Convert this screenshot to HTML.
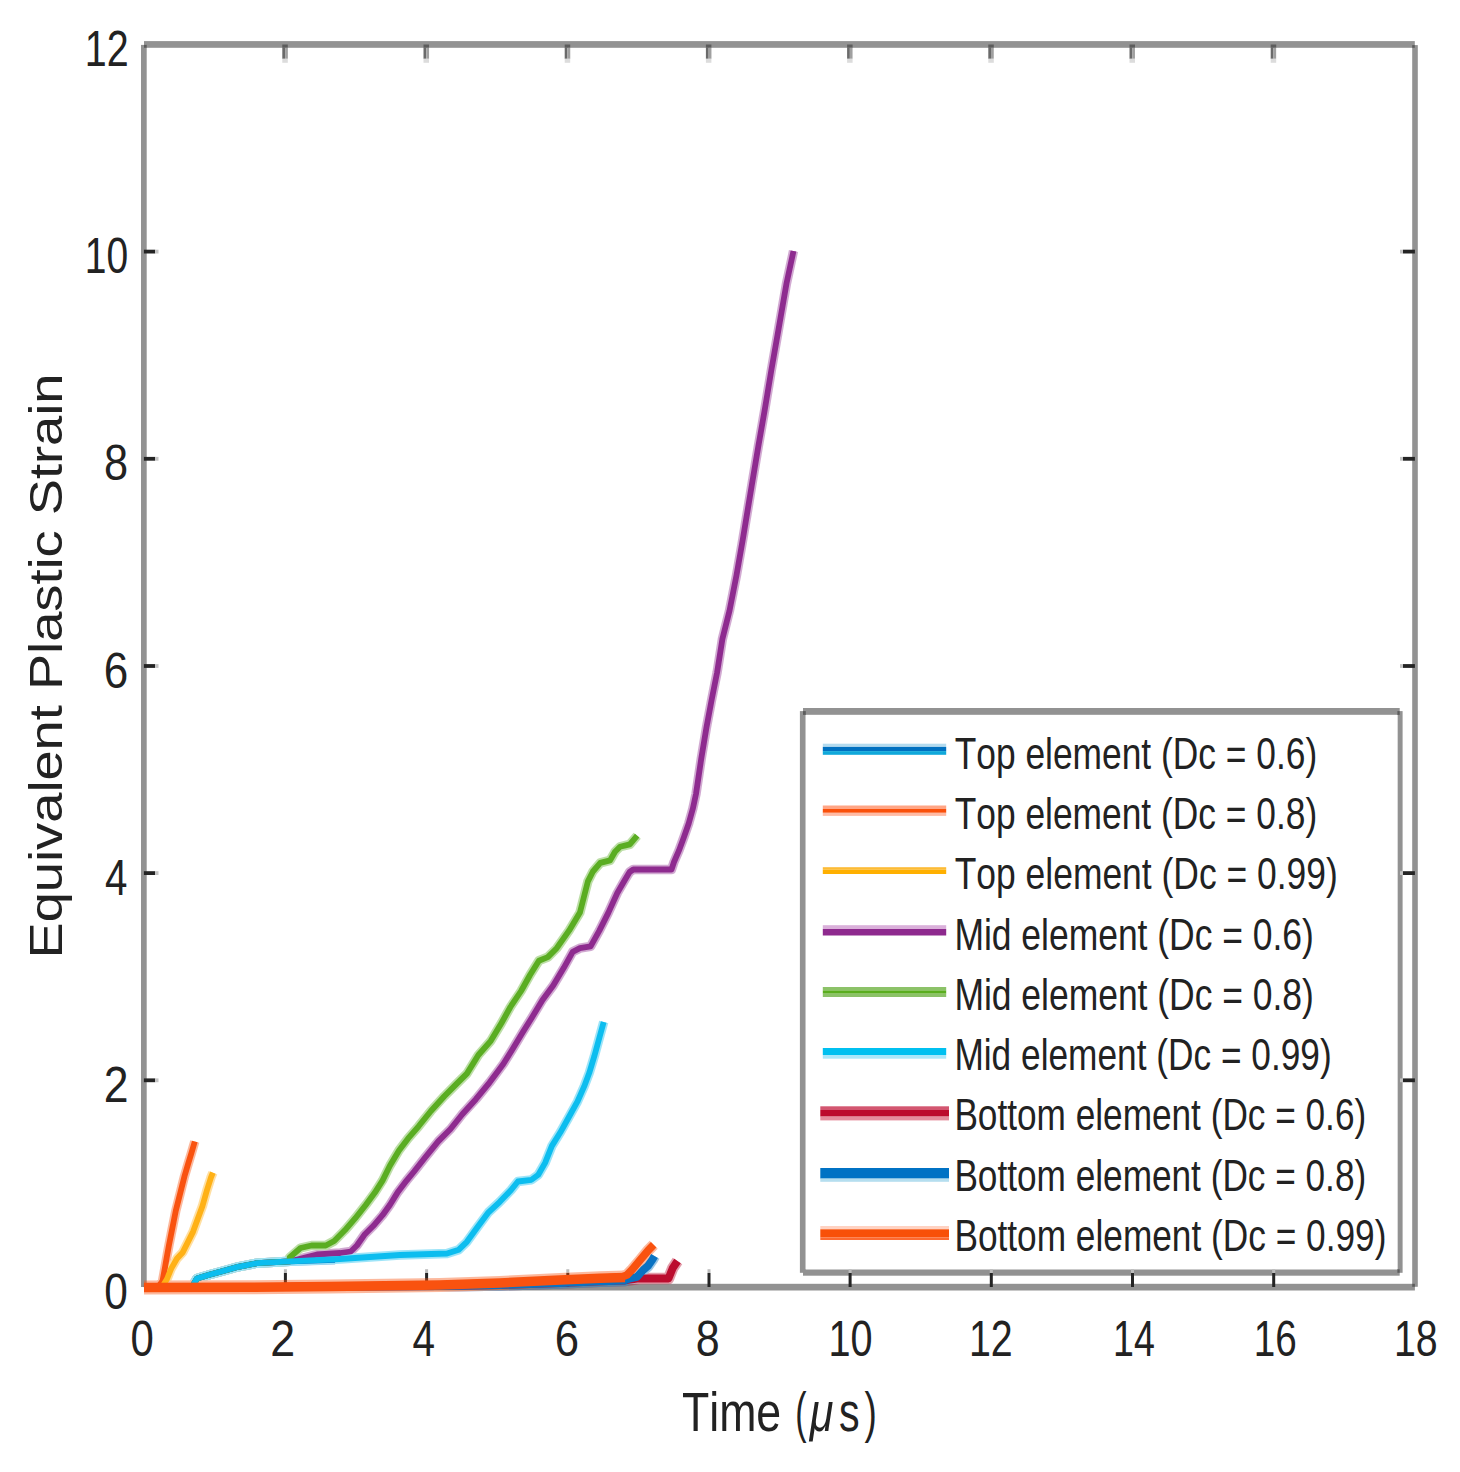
<!DOCTYPE html>
<html><head><meta charset="utf-8"><title>Equivalent Plastic Strain</title>
<style>
html,body{margin:0;padding:0;background:#fff;}
body{width:1460px;height:1472px;overflow:hidden;}
svg{display:block;font-family:"Liberation Sans",sans-serif;font-kerning:none;}
text{font-kerning:none;}
</style></head><body>
<svg width="1460" height="1472" viewBox="0 0 1460 1472">
<rect x="0" y="0" width="1460" height="1472" fill="#fff"/>
<rect x="144" y="41.1" width="1270.8" height="6.7" fill="#929292"/>
<rect x="141" y="44.9" width="5.7" height="1242.1" fill="#929292"/>
<rect x="1412.2" y="45.1" width="5.6" height="1241.7" fill="#929292"/>
<rect x="144" y="1283.8" width="1270.9" height="6.7" fill="#929292"/>
<rect x="144" y="44.9" width="2.7" height="2.9" fill="#5c5c5c"/>
<rect x="1412.2" y="45.1" width="2.6" height="2.7" fill="#5c5c5c"/>
<rect x="1412.2" y="1283.8" width="2.7" height="3.0" fill="#5c5c5c"/>
<rect x="803" y="708" width="596.7" height="6.9" fill="#929292"/>
<rect x="799.9" y="711.1" width="5.8" height="561.7" fill="#929292"/>
<rect x="1397.4" y="711.1" width="5.2" height="561.7" fill="#929292"/>
<rect x="803" y="1269.3" width="596.7" height="6.4" fill="#929292"/>
<rect x="805.75" y="714.9" width="591.7" height="554.4" fill="#fff"/>
<rect x="803" y="711.1" width="2.8" height="3.8" fill="#5c5c5c"/>
<rect x="1397.4" y="711.1" width="2.3" height="3.8" fill="#5c5c5c"/>
<rect x="1397.4" y="1269.3" width="2.3" height="3.5" fill="#5c5c5c"/>
<rect x="282.3" y="44.5" width="5.5" height="3.3" fill="#5c5c5c"/>
<rect x="282.3" y="47.8" width="2.75" height="11" fill="#6a6a6a"/>
<rect x="285.1" y="47.8" width="2.75" height="11" fill="#a0a0a0"/>
<rect x="282.3" y="58.8" width="5.5" height="4" fill="#dcdcdc"/>
<rect x="283.9" y="1273" width="3" height="14" fill="#242424"/>
<rect x="283.9" y="1269.2" width="3" height="3.8" fill="#bdbdbd"/>
<rect x="423.5" y="44.5" width="5.5" height="3.3" fill="#5c5c5c"/>
<rect x="423.5" y="47.8" width="2.75" height="11" fill="#6a6a6a"/>
<rect x="426.3" y="47.8" width="2.75" height="11" fill="#a0a0a0"/>
<rect x="423.5" y="58.8" width="5.5" height="4" fill="#dcdcdc"/>
<rect x="425.1" y="1273" width="3" height="14" fill="#242424"/>
<rect x="425.1" y="1269.2" width="3" height="3.8" fill="#bdbdbd"/>
<rect x="564.7" y="44.5" width="5.5" height="3.3" fill="#5c5c5c"/>
<rect x="564.7" y="47.8" width="2.75" height="11" fill="#6a6a6a"/>
<rect x="567.5" y="47.8" width="2.75" height="11" fill="#a0a0a0"/>
<rect x="564.7" y="58.8" width="5.5" height="4" fill="#dcdcdc"/>
<rect x="566.3" y="1273" width="3" height="14" fill="#242424"/>
<rect x="566.3" y="1269.2" width="3" height="3.8" fill="#bdbdbd"/>
<rect x="705.9" y="44.5" width="5.5" height="3.3" fill="#5c5c5c"/>
<rect x="705.9" y="47.8" width="2.75" height="11" fill="#6a6a6a"/>
<rect x="708.7" y="47.8" width="2.75" height="11" fill="#a0a0a0"/>
<rect x="705.9" y="58.8" width="5.5" height="4" fill="#dcdcdc"/>
<rect x="707.5" y="1273" width="3" height="14" fill="#242424"/>
<rect x="707.5" y="1269.2" width="3" height="3.8" fill="#bdbdbd"/>
<rect x="847.1" y="44.5" width="5.5" height="3.3" fill="#5c5c5c"/>
<rect x="847.1" y="47.8" width="2.75" height="11" fill="#6a6a6a"/>
<rect x="849.8" y="47.8" width="2.75" height="11" fill="#a0a0a0"/>
<rect x="847.1" y="58.8" width="5.5" height="4" fill="#dcdcdc"/>
<rect x="848.6" y="1273" width="3" height="14" fill="#242424"/>
<rect x="848.6" y="1269.2" width="3" height="3.8" fill="#bdbdbd"/>
<rect x="988.3" y="44.5" width="5.5" height="3.3" fill="#5c5c5c"/>
<rect x="988.3" y="47.8" width="2.75" height="11" fill="#6a6a6a"/>
<rect x="991.0" y="47.8" width="2.75" height="11" fill="#a0a0a0"/>
<rect x="988.3" y="58.8" width="5.5" height="4" fill="#dcdcdc"/>
<rect x="989.8" y="1273" width="3" height="14" fill="#242424"/>
<rect x="989.8" y="1269.2" width="3" height="3.8" fill="#bdbdbd"/>
<rect x="1129.5" y="44.5" width="5.5" height="3.3" fill="#5c5c5c"/>
<rect x="1129.5" y="47.8" width="2.75" height="11" fill="#6a6a6a"/>
<rect x="1132.2" y="47.8" width="2.75" height="11" fill="#a0a0a0"/>
<rect x="1129.5" y="58.8" width="5.5" height="4" fill="#dcdcdc"/>
<rect x="1131.0" y="1273" width="3" height="14" fill="#242424"/>
<rect x="1131.0" y="1269.2" width="3" height="3.8" fill="#bdbdbd"/>
<rect x="1270.7" y="44.5" width="5.5" height="3.3" fill="#5c5c5c"/>
<rect x="1270.7" y="47.8" width="2.75" height="11" fill="#6a6a6a"/>
<rect x="1273.4" y="47.8" width="2.75" height="11" fill="#a0a0a0"/>
<rect x="1270.7" y="58.8" width="5.5" height="4" fill="#dcdcdc"/>
<rect x="1272.2" y="1273" width="3" height="14" fill="#242424"/>
<rect x="1272.2" y="1269.2" width="3" height="3.8" fill="#bdbdbd"/>
<rect x="143.9" y="1078.4" width="11.3" height="3.8" fill="#242424"/>
<rect x="155.2" y="1078.4" width="3.3" height="3.8" fill="#c4c4c4"/>
<rect x="1402.9" y="1078.4" width="12" height="3.8" fill="#242424"/>
<rect x="1400" y="1078.4" width="2.9" height="3.8" fill="#c4c4c4"/>
<rect x="143.9" y="871.2" width="11.3" height="3.8" fill="#242424"/>
<rect x="155.2" y="871.2" width="3.3" height="3.8" fill="#c4c4c4"/>
<rect x="1402.9" y="871.2" width="12" height="3.8" fill="#242424"/>
<rect x="1400" y="871.2" width="2.9" height="3.8" fill="#c4c4c4"/>
<rect x="143.9" y="664.1" width="11.3" height="3.8" fill="#242424"/>
<rect x="155.2" y="664.1" width="3.3" height="3.8" fill="#c4c4c4"/>
<rect x="1402.9" y="664.1" width="12" height="3.8" fill="#242424"/>
<rect x="1400" y="664.1" width="2.9" height="3.8" fill="#c4c4c4"/>
<rect x="143.9" y="456.9" width="11.3" height="3.8" fill="#242424"/>
<rect x="155.2" y="456.9" width="3.3" height="3.8" fill="#c4c4c4"/>
<rect x="1402.9" y="456.9" width="12" height="3.8" fill="#242424"/>
<rect x="1400" y="456.9" width="2.9" height="3.8" fill="#c4c4c4"/>
<rect x="143.9" y="249.7" width="11.3" height="3.8" fill="#242424"/>
<rect x="155.2" y="249.7" width="3.3" height="3.8" fill="#c4c4c4"/>
<rect x="1402.9" y="249.7" width="12" height="3.8" fill="#242424"/>
<rect x="1400" y="249.7" width="2.9" height="3.8" fill="#c4c4c4"/>
<g fill="none" stroke-linejoin="round" stroke-linecap="butt">
<g opacity="0.4">
<path d="M144.0 1287.5 L192.0 1287.0 L197.0 1278.5 L209.3 1274.8 L223.1 1271.0 L238.2 1266.8 L257.0 1263.2 L290.0 1261.3 L335.0 1259.8" stroke="#0a72c2" stroke-width="9.4"/>
<path d="M144.0 1287.5 L158.0 1287.2 L162.5 1281.0 L164.8 1268.6 L166.8 1257.0 L168.9 1245.5 L171.2 1233.9 L173.5 1222.4 L175.8 1210.8 L178.7 1199.3 L181.6 1187.7 L184.5 1176.2 L187.9 1164.6 L191.4 1153.1 L194.8 1141.5" stroke="#f9520f" stroke-width="9.4"/>
<path d="M144.0 1287.5 L162.0 1287.2 L167.0 1279.0 L171.2 1268.6 L177.0 1258.5 L182.7 1252.4 L188.5 1240.9 L193.1 1231.6 L197.7 1218.9 L202.4 1206.2 L207.0 1190.0 L211.0 1177.3 L212.9 1172.7" stroke="#ffb116" stroke-width="9.4"/>
<path d="M144.0 1287.5 L192.0 1287.0 L197.0 1278.5 L209.3 1274.8 L223.1 1271.0 L238.2 1266.8 L257.0 1263.2 L290.0 1261.3 L317.0 1254.5 L340.3 1253.0 L350.8 1251.5 L356.9 1245.5 L364.4 1234.8 L373.4 1225.8 L382.5 1215.2 L390.0 1204.7 L397.5 1192.6 L406.6 1180.6 L414.1 1171.5 L424.7 1158.0 L438.2 1141.4 L450.3 1129.3 L462.3 1114.2 L475.9 1099.2 L489.5 1082.6 L498.5 1070.5 L503.3 1064.0 L512.2 1049.7 L522.9 1031.9 L531.8 1017.7 L542.5 999.9 L553.2 985.6 L563.8 967.8 L572.7 951.8 L579.9 948.2 L590.6 946.4 L599.5 930.4 L608.4 912.6 L617.3 893.0 L624.7 880.2 L629.6 872.0 L633.3 869.5 L671.5 869.5 L674.0 862.0 L678.9 850.7 L683.8 837.5 L688.7 823.5 L692.8 808.8 L696.0 794.0 L701.2 759.0 L706.5 727.3 L711.8 699.0 L717.1 672.5 L722.4 639.0 L729.5 610.7 L736.5 575.3 L742.7 540.0 L751.7 485.7 L758.3 446.5 L764.8 409.6 L771.3 370.4 L777.8 333.5 L786.5 283.5 L793.5 251.0" stroke="#8e2b8f" stroke-width="9.4"/>
<path d="M144.0 1287.5 L192.0 1287.0 L197.0 1278.5 L209.3 1274.8 L223.1 1271.0 L238.2 1266.8 L257.0 1263.2 L290.0 1261.3 L289.6 1257.5 L300.5 1248.0 L311.5 1245.5 L325.8 1245.5 L334.2 1241.0 L344.8 1230.3 L355.3 1218.2 L365.9 1204.7 L374.9 1192.6 L382.5 1180.6 L390.0 1165.5 L399.0 1150.4 L408.1 1138.4 L418.6 1126.3 L430.7 1111.2 L444.3 1096.2 L456.3 1084.1 L466.9 1073.6 L478.4 1055.0 L490.8 1040.8 L501.5 1023.0 L510.4 1007.0 L521.1 991.0 L530.0 975.0 L538.9 960.7 L547.8 957.1 L556.7 948.2 L569.2 930.4 L579.9 912.6 L587.9 881.4 L592.9 871.5 L600.3 862.9 L610.1 860.4 L615.0 851.8 L620.0 846.8 L629.8 844.4 L637.2 835.7" stroke="#5aad22" stroke-width="9.4"/>
<path d="M144.0 1287.5 L192.0 1287.0 L197.0 1278.5 L209.3 1274.8 L223.1 1271.0 L238.2 1266.8 L257.0 1263.2 L290.0 1261.3 L340.0 1259.0 L400.0 1255.0 L447.0 1253.5 L458.8 1249.7 L466.9 1241.8 L477.2 1227.5 L488.5 1212.3 L499.8 1201.8 L511.1 1190.0 L517.9 1181.5 L531.5 1179.8 L538.3 1174.7 L545.1 1162.9 L551.9 1145.9 L560.4 1132.3 L568.9 1117.0 L577.4 1101.7 L584.2 1086.4 L589.3 1072.8 L594.4 1055.9 L599.5 1037.2 L603.7 1021.9" stroke="#0cbdef" stroke-width="9.4"/>
<path d="M144.0 1287.5 L250.0 1287.2 L330.0 1286.5 L440.0 1286.0 L500.0 1285.0 L560.0 1283.0 L600.0 1281.3 L625.0 1280.5 L639.0 1278.5 L668.5 1278.5 L672.7 1268.2 L677.5 1261.0" stroke="#bb0c2e" stroke-width="11.4"/>
<path d="M144.0 1287.5 L250.0 1287.2 L330.0 1286.5 L440.0 1286.0 L500.0 1285.0 L560.0 1283.0 L600.0 1281.3 L625.0 1280.5 L630.0 1278.5 L637.0 1276.9 L643.2 1270.0 L648.1 1265.8 L652.4 1259.6 L654.5 1256.0" stroke="#0a72c2" stroke-width="11.4"/>
<path d="M144.0 1287.5 L250.0 1287.2 L330.0 1286.5 L440.0 1285.0 L500.0 1283.0 L560.0 1280.0 L600.0 1278.3 L622.0 1277.0 L627.0 1275.0 L632.3 1269.5 L640.6 1259.6 L648.8 1249.7 L653.7 1244.8" stroke="#f9520f" stroke-width="11.4"/>
<path d="M144.0 1287.5 L250.0 1287.2 L330.0 1286.5 L440.0 1285.0 L500.0 1283.0 L560.0 1280.0 L600.0 1278.3 L625.0 1277.5" stroke="#f9520f" stroke-width="14"/>
</g>
<path d="M144.0 1287.5 L192.0 1287.0 L197.0 1278.5 L209.3 1274.8 L223.1 1271.0 L238.2 1266.8 L257.0 1263.2 L290.0 1261.3 L335.0 1259.8" stroke="#0a72c2" stroke-width="5.8"/>
<path d="M144.0 1287.5 L158.0 1287.2 L162.5 1281.0 L164.8 1268.6 L166.8 1257.0 L168.9 1245.5 L171.2 1233.9 L173.5 1222.4 L175.8 1210.8 L178.7 1199.3 L181.6 1187.7 L184.5 1176.2 L187.9 1164.6 L191.4 1153.1 L194.8 1141.5" stroke="#f9520f" stroke-width="5.8"/>
<path d="M144.0 1287.5 L162.0 1287.2 L167.0 1279.0 L171.2 1268.6 L177.0 1258.5 L182.7 1252.4 L188.5 1240.9 L193.1 1231.6 L197.7 1218.9 L202.4 1206.2 L207.0 1190.0 L211.0 1177.3 L212.9 1172.7" stroke="#ffb116" stroke-width="5.8"/>
<path d="M144.0 1287.5 L192.0 1287.0 L197.0 1278.5 L209.3 1274.8 L223.1 1271.0 L238.2 1266.8 L257.0 1263.2 L290.0 1261.3 L317.0 1254.5 L340.3 1253.0 L350.8 1251.5 L356.9 1245.5 L364.4 1234.8 L373.4 1225.8 L382.5 1215.2 L390.0 1204.7 L397.5 1192.6 L406.6 1180.6 L414.1 1171.5 L424.7 1158.0 L438.2 1141.4 L450.3 1129.3 L462.3 1114.2 L475.9 1099.2 L489.5 1082.6 L498.5 1070.5 L503.3 1064.0 L512.2 1049.7 L522.9 1031.9 L531.8 1017.7 L542.5 999.9 L553.2 985.6 L563.8 967.8 L572.7 951.8 L579.9 948.2 L590.6 946.4 L599.5 930.4 L608.4 912.6 L617.3 893.0 L624.7 880.2 L629.6 872.0 L633.3 869.5 L671.5 869.5 L674.0 862.0 L678.9 850.7 L683.8 837.5 L688.7 823.5 L692.8 808.8 L696.0 794.0 L701.2 759.0 L706.5 727.3 L711.8 699.0 L717.1 672.5 L722.4 639.0 L729.5 610.7 L736.5 575.3 L742.7 540.0 L751.7 485.7 L758.3 446.5 L764.8 409.6 L771.3 370.4 L777.8 333.5 L786.5 283.5 L793.5 251.0" stroke="#8e2b8f" stroke-width="5.8"/>
<path d="M144.0 1287.5 L192.0 1287.0 L197.0 1278.5 L209.3 1274.8 L223.1 1271.0 L238.2 1266.8 L257.0 1263.2 L290.0 1261.3 L289.6 1257.5 L300.5 1248.0 L311.5 1245.5 L325.8 1245.5 L334.2 1241.0 L344.8 1230.3 L355.3 1218.2 L365.9 1204.7 L374.9 1192.6 L382.5 1180.6 L390.0 1165.5 L399.0 1150.4 L408.1 1138.4 L418.6 1126.3 L430.7 1111.2 L444.3 1096.2 L456.3 1084.1 L466.9 1073.6 L478.4 1055.0 L490.8 1040.8 L501.5 1023.0 L510.4 1007.0 L521.1 991.0 L530.0 975.0 L538.9 960.7 L547.8 957.1 L556.7 948.2 L569.2 930.4 L579.9 912.6 L587.9 881.4 L592.9 871.5 L600.3 862.9 L610.1 860.4 L615.0 851.8 L620.0 846.8 L629.8 844.4 L637.2 835.7" stroke="#5aad22" stroke-width="5.8"/>
<path d="M144.0 1287.5 L192.0 1287.0 L197.0 1278.5 L209.3 1274.8 L223.1 1271.0 L238.2 1266.8 L257.0 1263.2 L290.0 1261.3 L340.0 1259.0 L400.0 1255.0 L447.0 1253.5 L458.8 1249.7 L466.9 1241.8 L477.2 1227.5 L488.5 1212.3 L499.8 1201.8 L511.1 1190.0 L517.9 1181.5 L531.5 1179.8 L538.3 1174.7 L545.1 1162.9 L551.9 1145.9 L560.4 1132.3 L568.9 1117.0 L577.4 1101.7 L584.2 1086.4 L589.3 1072.8 L594.4 1055.9 L599.5 1037.2 L603.7 1021.9" stroke="#0cbdef" stroke-width="5.8"/>
<path d="M144.0 1287.5 L250.0 1287.2 L330.0 1286.5 L440.0 1286.0 L500.0 1285.0 L560.0 1283.0 L600.0 1281.3 L625.0 1280.5 L639.0 1278.5 L668.5 1278.5 L672.7 1268.2 L677.5 1261.0" stroke="#bb0c2e" stroke-width="7.8"/>
<path d="M144.0 1287.5 L250.0 1287.2 L330.0 1286.5 L440.0 1286.0 L500.0 1285.0 L560.0 1283.0 L600.0 1281.3 L625.0 1280.5 L630.0 1278.5 L637.0 1276.9 L643.2 1270.0 L648.1 1265.8 L652.4 1259.6 L654.5 1256.0" stroke="#0a72c2" stroke-width="7.8"/>
<path d="M144.0 1287.5 L250.0 1287.2 L330.0 1286.5 L440.0 1285.0 L500.0 1283.0 L560.0 1280.0 L600.0 1278.3 L622.0 1277.0 L627.0 1275.0 L632.3 1269.5 L640.6 1259.6 L648.8 1249.7 L653.7 1244.8" stroke="#f9520f" stroke-width="7.8"/>
<path d="M144.0 1287.5 L250.0 1287.2 L330.0 1286.5 L440.0 1285.0 L500.0 1283.0 L560.0 1280.0 L600.0 1278.3 L625.0 1277.5" stroke="#f9520f" stroke-width="9.5"/>
</g>
<rect x="822.8" y="743.7" width="123.4" height="3.2" fill="#b3dbef"/>
<rect x="822.8" y="746.9" width="123.4" height="4.2" fill="#0070c0"/>
<rect x="822.8" y="751.1" width="123.4" height="3.7" fill="#10a8da"/>
<text x="954.7" y="768.6" font-size="45" textLength="362.5" lengthAdjust="spacingAndGlyphs" fill="#222222">Top element (Dc = 0.6)</text>
<rect x="822.8" y="805.5" width="123.4" height="3.5" fill="#ffa585"/>
<rect x="822.8" y="809" width="123.4" height="3.8" fill="#fa500a"/>
<rect x="822.8" y="812.8" width="123.4" height="3.1" fill="#ffbba5"/>
<text x="954.7" y="828.9" font-size="45" textLength="362.5" lengthAdjust="spacingAndGlyphs" fill="#222222">Top element (Dc = 0.8)</text>
<rect x="822.8" y="867.2" width="123.4" height="2.5" fill="#fdbb35"/>
<rect x="822.8" y="869.7" width="123.4" height="4.3" fill="#ffb000"/>
<text x="954.7" y="889.2" font-size="45" textLength="383.1" lengthAdjust="spacingAndGlyphs" fill="#222222">Top element (Dc = 0.99)</text>
<rect x="822.8" y="925.2" width="123.4" height="3.8" fill="#dab0da"/>
<rect x="822.8" y="929" width="123.4" height="6.5" fill="#8e2a8e"/>
<text x="954.4" y="949.5" font-size="45" textLength="359.5" lengthAdjust="spacingAndGlyphs" fill="#222222">Mid element (Dc = 0.6)</text>
<rect x="822.8" y="987" width="123.4" height="3.4" fill="#8cc268"/>
<rect x="822.8" y="990.4" width="123.4" height="3.3" fill="#5aae1e"/>
<rect x="822.8" y="993.7" width="123.4" height="3.3" fill="#8cc268"/>
<text x="954.4" y="1009.8" font-size="45" textLength="359.5" lengthAdjust="spacingAndGlyphs" fill="#222222">Mid element (Dc = 0.8)</text>
<rect x="822.8" y="1048" width="123.4" height="7" fill="#00c0f0"/>
<rect x="822.8" y="1055" width="123.4" height="3.7" fill="#aae7fa"/>
<text x="954.4" y="1070.1" font-size="45" textLength="377.3" lengthAdjust="spacingAndGlyphs" fill="#222222">Mid element (Dc = 0.99)</text>
<rect x="820.3" y="1106.3" width="128.7" height="3.7" fill="#d35670"/>
<rect x="820.3" y="1110" width="128.7" height="6.6" fill="#bc0a2c"/>
<rect x="820.3" y="1116.6" width="128.7" height="3.8" fill="#e58c9c"/>
<text x="954.4" y="1130.4" font-size="45" textLength="411.8" lengthAdjust="spacingAndGlyphs" fill="#222222">Bottom element (Dc = 0.6)</text>
<rect x="820.3" y="1168" width="128.7" height="10.6" fill="#0072c4"/>
<rect x="820.3" y="1178.6" width="128.7" height="3.2" fill="#b5deef"/>
<text x="954.4" y="1190.7" font-size="45" textLength="411.8" lengthAdjust="spacingAndGlyphs" fill="#222222">Bottom element (Dc = 0.8)</text>
<rect x="820.3" y="1226" width="128.7" height="3.3" fill="#ffd2c2"/>
<rect x="820.3" y="1229.3" width="128.7" height="8" fill="#f85008"/>
<rect x="820.3" y="1237.3" width="128.7" height="2.7" fill="#fd6a30"/>
<text x="954.4" y="1251.0" font-size="45" textLength="432.0" lengthAdjust="spacingAndGlyphs" fill="#222222">Bottom element (Dc = 0.99)</text>
<text x="104.3" y="1309.0" font-size="49.5" textLength="23.6" lengthAdjust="spacingAndGlyphs" fill="#222222">0</text>
<text x="103.8" y="1101.8" font-size="49.5" textLength="24.8" lengthAdjust="spacingAndGlyphs" fill="#222222">2</text>
<text x="105.1" y="894.7" font-size="49.5" textLength="22.4" lengthAdjust="spacingAndGlyphs" fill="#222222">4</text>
<text x="103.8" y="687.5" font-size="49.5" textLength="24.5" lengthAdjust="spacingAndGlyphs" fill="#222222">6</text>
<text x="104.1" y="480.3" font-size="49.5" textLength="24.1" lengthAdjust="spacingAndGlyphs" fill="#222222">8</text>
<text x="84.7" y="273.1" font-size="49.5" textLength="43.4" lengthAdjust="spacingAndGlyphs" fill="#222222">10</text>
<text x="84.7" y="65.9" font-size="49.5" textLength="43.9" lengthAdjust="spacingAndGlyphs" fill="#222222">12</text>
<text x="130.4" y="1356.2" font-size="49.5" textLength="23.3" lengthAdjust="spacingAndGlyphs" fill="#222222">0</text>
<text x="270.3" y="1356.2" font-size="49.5" textLength="24.9" lengthAdjust="spacingAndGlyphs" fill="#222222">2</text>
<text x="412.4" y="1356.2" font-size="49.5" textLength="22.5" lengthAdjust="spacingAndGlyphs" fill="#222222">4</text>
<text x="554.8" y="1356.2" font-size="49.5" textLength="24.3" lengthAdjust="spacingAndGlyphs" fill="#222222">6</text>
<text x="695.7" y="1356.2" font-size="49.5" textLength="23.9" lengthAdjust="spacingAndGlyphs" fill="#222222">8</text>
<text x="828.5" y="1356.2" font-size="49.5" textLength="44.1" lengthAdjust="spacingAndGlyphs" fill="#222222">10</text>
<text x="968.9" y="1356.2" font-size="49.5" textLength="43.8" lengthAdjust="spacingAndGlyphs" fill="#222222">12</text>
<text x="1113.0" y="1356.2" font-size="49.5" textLength="41.8" lengthAdjust="spacingAndGlyphs" fill="#222222">14</text>
<text x="1253.7" y="1356.2" font-size="49.5" textLength="43.0" lengthAdjust="spacingAndGlyphs" fill="#222222">16</text>
<text x="1394.0" y="1356.2" font-size="49.5" textLength="43.7" lengthAdjust="spacingAndGlyphs" fill="#222222">18</text>
<text x="682.0" y="1431.3" font-size="55.5" textLength="99.2" lengthAdjust="spacingAndGlyphs" fill="#222222">Time</text>
<text x="795.2" y="1431.3" font-size="55.5" textLength="11.3" lengthAdjust="spacingAndGlyphs" fill="#222222">(</text>
<text x="809.7" y="1431.3" font-size="55.5" font-style="italic" textLength="23.6" lengthAdjust="spacingAndGlyphs" fill="#222222">μ</text>
<text x="838.9" y="1431.3" font-size="55.5" textLength="20.6" lengthAdjust="spacingAndGlyphs" fill="#222222">s</text>
<text x="864.5" y="1431.3" font-size="55.5" textLength="12.3" lengthAdjust="spacingAndGlyphs" fill="#222222">)</text>
<text transform="translate(61.5 958.5) rotate(-90)" x="0" y="0" font-size="46.3" textLength="585.0" lengthAdjust="spacingAndGlyphs" fill="#222222">Equivalent Plastic Strain</text>
</svg>
</body></html>
